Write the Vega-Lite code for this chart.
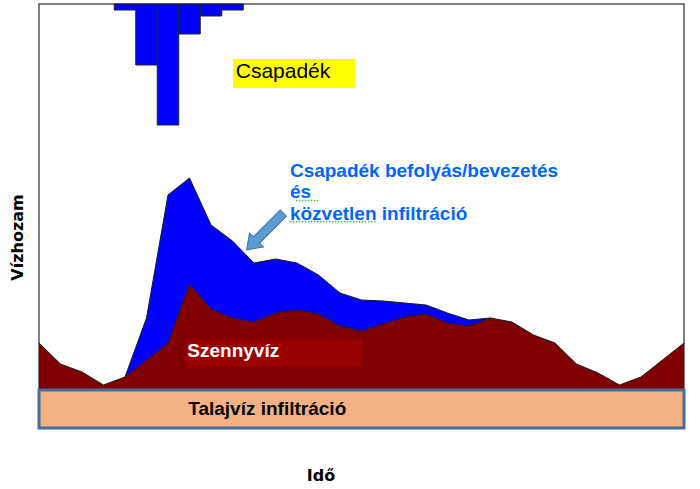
{
  "$schema": "https://vega.github.io/schema/vega-lite/v6.json",
  "width": 645,
  "height": 424,
  "autosize": {"type": "none"},
  "padding": {"left": 39, "top": 4, "right": 16, "bottom": 61},
  "background": "white",
  "config": {
    "view": {"stroke": "#555555", "strokeWidth": 1.5},
    "font": "Liberation Sans",
    "axisX": {"labels": false, "ticks": false, "domain": false, "grid": false,
      "titleFont": "DejaVu Sans", "titleFontSize": 16, "titleFontWeight": "bold", "titleColor": "black",
      "titleX": 281.5, "titleY": 52, "titleBaseline": "alphabetic", "titleAlign": "center", "titlePadding": 0},
    "axisY": {"labels": false, "ticks": false, "domain": false, "grid": false,
      "titleFont": "DejaVu Sans", "titleFontSize": 16, "titleFontWeight": "bold", "titleColor": "black",
      "titleAngle": -90, "titleX": -17, "titleY": 233, "titleBaseline": "alphabetic", "titleAlign": "center"}
  },
  "datasets": {
    "flow": [
      {"t": 0, "wastewater": 85, "total": null},
      {"t": 1, "wastewater": 64, "total": null},
      {"t": 2, "wastewater": 56, "total": null},
      {"t": 3, "wastewater": 43, "total": null},
      {"t": 4, "wastewater": 51, "total": 51},
      {"t": 5, "wastewater": 68, "total": 110},
      {"t": 6, "wastewater": 85, "total": 233},
      {"t": 7, "wastewater": 144, "total": 250},
      {"t": 8, "wastewater": 119, "total": 203},
      {"t": 9, "wastewater": 110, "total": 187},
      {"t": 10, "wastewater": 106, "total": 165},
      {"t": 11, "wastewater": 115, "total": 169},
      {"t": 12, "wastewater": 118, "total": 165},
      {"t": 13, "wastewater": 114, "total": 153},
      {"t": 14, "wastewater": 102, "total": 135},
      {"t": 15, "wastewater": 97, "total": 128},
      {"t": 16, "wastewater": 104, "total": 127},
      {"t": 17, "wastewater": 111, "total": 125},
      {"t": 18, "wastewater": 114, "total": 123},
      {"t": 19, "wastewater": 105, "total": 115},
      {"t": 20, "wastewater": 102, "total": 108},
      {"t": 21, "wastewater": 110, "total": 110},
      {"t": 22, "wastewater": 106, "total": null},
      {"t": 23, "wastewater": 93, "total": null},
      {"t": 24, "wastewater": 85, "total": null},
      {"t": 25, "wastewater": 64, "total": null},
      {"t": 26, "wastewater": 55, "total": null},
      {"t": 27, "wastewater": 43, "total": null},
      {"t": 28, "wastewater": 51, "total": null},
      {"t": 29, "wastewater": 68, "total": null},
      {"t": 30, "wastewater": 85, "total": null}
    ],
    "rain": [
      {"start": 3.5, "end": 4.5, "intensity": 6},
      {"start": 4.5, "end": 5.5, "intensity": 61},
      {"start": 5.5, "end": 6.5, "intensity": 121},
      {"start": 6.5, "end": 7.5, "intensity": 30},
      {"start": 7.5, "end": 8.5, "intensity": 12},
      {"start": 8.5, "end": 9.5, "intensity": 6}
    ],
    "base": [
      {"label": "Talajvíz infiltráció", "start": 0, "end": 30, "low": 0, "high": 38}
    ]
  },
  "layer": [
    {
      "layer": [
        {
          "data": {"name": "flow"},
          "mark": {"type": "area", "color": "#800000", "opacity": 1},
          "encoding": {
            "x": {"field": "t", "type": "quantitative", "scale": {"domain": [0, 30], "nice": false, "zero": false}, "title": "Idő"},
            "y": {"field": "wastewater", "type": "quantitative", "scale": {"domain": [0, 424], "nice": false, "zero": false}, "title": "Vízhozam"},
            "y2": {"datum": 38}
          }
        },
        {
          "data": {"name": "flow"},
          "transform": [{"filter": "isValid(datum.total)"}],
          "mark": {"type": "area", "color": "#0000FF", "opacity": 1},
          "encoding": {
            "x": {"field": "t", "type": "quantitative", "scale": {"domain": [0, 30], "nice": false, "zero": false}, "title": "Idő"},
            "y": {"field": "total", "type": "quantitative", "scale": {"domain": [0, 424], "nice": false, "zero": false}, "title": "Vízhozam"},
            "y2": {"field": "wastewater"}
          }
        },
        {
          "data": {"name": "flow"},
          "mark": {"type": "line", "color": "#1a1a1a", "strokeWidth": 1},
          "encoding": {
            "x": {"field": "t", "type": "quantitative", "scale": {"domain": [0, 30], "nice": false, "zero": false}, "title": "Idő"},
            "y": {"field": "wastewater", "type": "quantitative", "scale": {"domain": [0, 424], "nice": false, "zero": false}, "title": "Vízhozam"}
          }
        },
        {
          "data": {"name": "flow"},
          "transform": [{"filter": "isValid(datum.total)"}],
          "mark": {"type": "line", "color": "#1a1a1a", "strokeWidth": 1},
          "encoding": {
            "x": {"field": "t", "type": "quantitative", "scale": {"domain": [0, 30], "nice": false, "zero": false}, "title": "Idő"},
            "y": {"field": "total", "type": "quantitative", "scale": {"domain": [0, 424], "nice": false, "zero": false}, "title": "Vízhozam"}
          }
        },
        {
          "data": {"name": "base"},
          "mark": {"type": "rect", "fill": "#F4B183", "stroke": "#41719C", "strokeWidth": 3},
          "encoding": {
            "x": {"field": "start", "type": "quantitative", "scale": {"domain": [0, 30], "nice": false, "zero": false}, "title": "Idő"},
            "x2": {"field": "end"},
            "y": {"field": "low", "type": "quantitative", "scale": {"domain": [0, 424], "nice": false, "zero": false}, "title": "Vízhozam"},
            "y2": {"field": "high"}
          }
        },
        {
          "data": {"name": "base"},
          "mark": {"type": "text", "align": "left", "baseline": "alphabetic", "font": "Liberation Sans", "fontSize": 19, "fontWeight": "bold", "color": "black"},
          "encoding": {
            "x": {"datum": 6.94, "type": "quantitative", "scale": {"domain": [0, 30], "nice": false, "zero": false}, "title": "Idő"},
            "y": {"datum": 13, "type": "quantitative", "scale": {"domain": [0, 424], "nice": false, "zero": false}, "title": "Vízhozam"},
            "text": {"field": "label"}
          }
        },
        {
          "data": {"values": [{"label": "Szennyvíz"}]},
          "mark": {"type": "rect", "fill": "#9A0000"},
          "encoding": {
            "x": {"datum": 6.84, "type": "quantitative", "scale": {"domain": [0, 30], "nice": false, "zero": false}, "title": "Idő"},
            "x2": {"datum": 15.01},
            "y": {"datum": 61.3, "type": "quantitative", "scale": {"domain": [0, 424], "nice": false, "zero": false}, "title": "Vízhozam"},
            "y2": {"datum": 88.7}
          }
        },
        {
          "data": {"values": [{"label": "Szennyvíz"}]},
          "mark": {"type": "text", "align": "left", "baseline": "alphabetic", "font": "Liberation Sans", "fontSize": 19, "fontWeight": "bold", "color": "white"},
          "encoding": {
            "x": {"datum": 6.9, "type": "quantitative", "scale": {"domain": [0, 30], "nice": false, "zero": false}, "title": "Idő"},
            "y": {"datum": 70.7, "type": "quantitative", "scale": {"domain": [0, 424], "nice": false, "zero": false}, "title": "Vízhozam"},
            "text": {"field": "label"}
          }
        },
        {
          "data": {"values": [{"label": "Csapadék"}]},
          "mark": {"type": "rect", "fill": "#FFFF00"},
          "encoding": {
            "x": {"datum": 9.02, "type": "quantitative", "scale": {"domain": [0, 30], "nice": false, "zero": false}, "title": "Idő"},
            "x2": {"datum": 14.7},
            "y": {"datum": 340, "type": "quantitative", "scale": {"domain": [0, 424], "nice": false, "zero": false}, "title": "Vízhozam"},
            "y2": {"datum": 369}
          }
        },
        {
          "data": {"values": [{"label": "Csapadék"}]},
          "mark": {"type": "text", "align": "left", "baseline": "alphabetic", "font": "Liberation Sans", "fontSize": 21, "color": "black"},
          "encoding": {
            "x": {"datum": 9.15, "type": "quantitative", "scale": {"domain": [0, 30], "nice": false, "zero": false}, "title": "Idő"},
            "y": {"datum": 350.3, "type": "quantitative", "scale": {"domain": [0, 424], "nice": false, "zero": false}, "title": "Vízhozam"},
            "text": {"field": "label"}
          }
        },
        {
          "data": {"values": [{"label": "arrow"}]},
          "mark": {"type": "point", "shape": "M-1,-0.17L0.46,-0.17L0.46,-0.38L1,0L0.46,0.38L0.46,0.17L-1,0.17Z", "size": 2704, "angle": 135, "filled": true, "fill": "#5B9BD5", "stroke": "#41719C", "strokeWidth": 1, "opacity": 1},
          "encoding": {
            "x": {"datum": 10.51, "type": "quantitative", "scale": {"domain": [0, 30], "nice": false, "zero": false}, "title": "Idő"},
            "y": {"datum": 196.5, "type": "quantitative", "scale": {"domain": [0, 424], "nice": false, "zero": false}, "title": "Vízhozam"}
          }
        },
        {
          "data": {"values": [{"label": ["Csapadék befolyás/bevezetés", "\u00a0és", "közvetlen infiltráció"]}]},
          "mark": {"type": "text", "align": "left", "baseline": "alphabetic", "font": "Liberation Sans", "fontSize": 19, "fontWeight": "bold", "color": "#0066FF", "lineHeight": 21.7},
          "encoding": {
            "x": {"datum": 11.67, "type": "quantitative", "scale": {"domain": [0, 30], "nice": false, "zero": false}, "title": "Idő"},
            "y": {"datum": 251.3, "type": "quantitative", "scale": {"domain": [0, 424], "nice": false, "zero": false}, "title": "Vízhozam"},
            "text": {"field": "label"}
          }
        },
        {
          "data": {"values": [{"a": 11.95, "b": 13.05, "v": 227.5}, {"a": 11.67, "b": 15.7, "v": 206.2}]},
          "mark": {"type": "rule", "color": "#4CBB4C", "strokeWidth": 1.5, "strokeDash": [1.5, 1.5]},
          "encoding": {
            "x": {"field": "a", "type": "quantitative", "scale": {"domain": [0, 30], "nice": false, "zero": false}, "title": "Idő"},
            "x2": {"field": "b"},
            "y": {"field": "v", "type": "quantitative", "scale": {"domain": [0, 424], "nice": false, "zero": false}, "title": "Vízhozam"}
          }
        }
      ]
    },
    {
      "data": {"name": "rain"},
      "mark": {"type": "rect", "fill": "#0000FF", "stroke": "#222222", "strokeWidth": 1},
      "encoding": {
        "x": {"field": "start", "type": "quantitative", "scale": {"domain": [0, 30], "nice": false, "zero": false}, "title": "Idő"},
        "x2": {"field": "end"},
        "y": {"field": "intensity", "type": "quantitative", "scale": {"domain": [0, 424], "nice": false, "zero": false, "reverse": true}, "axis": null},
        "y2": {"datum": 0}
      }
    }
  ],
  "resolve": {"scale": {"y": "independent"}}
}
